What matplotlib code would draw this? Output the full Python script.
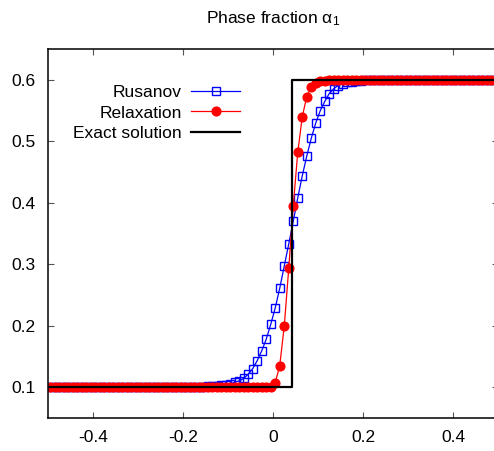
import numpy as np
import matplotlib
matplotlib.use("Agg")
import matplotlib.pyplot as plt

plt.rcParams['font.family'] = ['Liberation Sans', 'DejaVu Sans']
plt.rcParams['axes.unicode_minus'] = False

# cell centres of a 100-cell mesh on [-0.5, 0.5]
x = np.linspace(-0.495, 0.495, 100)

# Rusanov: flat 0.1 up to x=-0.165, transition, flat 0.6 from x=0.205
rusanov_mid = [0.1008, 0.101, 0.1015, 0.102, 0.103, 0.104, 0.105, 0.108,
               0.110, 0.114, 0.121, 0.130, 0.143, 0.159, 0.178, 0.202,
               0.229, 0.261, 0.297, 0.333, 0.370, 0.408, 0.444, 0.476,
               0.505, 0.530, 0.550, 0.565, 0.578, 0.586, 0.591, 0.594,
               0.596, 0.597, 0.598, 0.599]
rusanov = [0.1] * 34 + rusanov_mid + [0.6] * 30

# Relaxation: flat 0.1 up to x=-0.025, transition, flat 0.6 from x=0.125
relax_mid = [0.1, 0.1005, 0.107, 0.135, 0.199, 0.293, 0.395, 0.482,
             0.540, 0.573, 0.589, 0.595, 0.598, 0.599]
relaxation = [0.1] * 48 + relax_mid + [0.6] * 38

# exact solution: single jump
exact_x = [-0.5, 0.042, 0.042, 0.5]
exact_y = [0.1, 0.1, 0.6, 0.6]

xticks = [-0.4, -0.2, 0, 0.2, 0.4]
yticks = [0.1, 0.2, 0.3, 0.4, 0.5, 0.6]

fs = 12.5

fig = plt.figure(figsize=(4.94, 4.51), dpi=100)
W, H = 494, 451
ax = fig.add_axes([48 / W, 1 - 417.7 / H, 450 / W, (417.7 - 49.3) / H])

ax.plot(x, rusanov, color='#0000ff', lw=0.9, marker='s', ms=6,
        mfc='none', mec='#0000ff', mew=1.0, label='Rusanov')
ax.plot(x, relaxation, color='#ff0000', lw=0.9, marker='o', ms=6.3,
        mfc='#ff0000', mec='#ff0000', label='Relaxation')
ax.plot(exact_x, exact_y, color='black', lw=1.6, label='Exact solution')

ax.set_xlim(-0.5, 0.5)
ax.set_ylim(0.05, 0.65)
ax.set_xticks(xticks)
ax.set_xticklabels(['-0.4', '-0.2', '0', '0.2', '0.4'])
ax.set_yticks(yticks)
ax.set_yticklabels(['0.1', '0.2', '0.3', '0.4', '0.5', '0.6'])
ax.tick_params(direction='in', top=True, right=True, length=4.5,
               width=0.8, color='#555555', labelsize=fs, pad=9)
for s in ax.spines.values():
    s.set_linewidth(1.1)

fig.text(273 / W, 1 - 19 / H, r'Phase fraction $\mathregular{α_1}$',
         ha='center', va='center', fontsize=fs)

ax.legend(loc='upper right', bbox_to_anchor=(240 / W, 1 - 85 / H),
          bbox_transform=fig.transFigure, frameon=False, markerfirst=False,
          numpoints=1, fontsize=fs, handlelength=2.8, handletextpad=0.55,
          labelspacing=0.3, borderpad=0, borderaxespad=0)

fig.savefig('out.png', dpi=100)
